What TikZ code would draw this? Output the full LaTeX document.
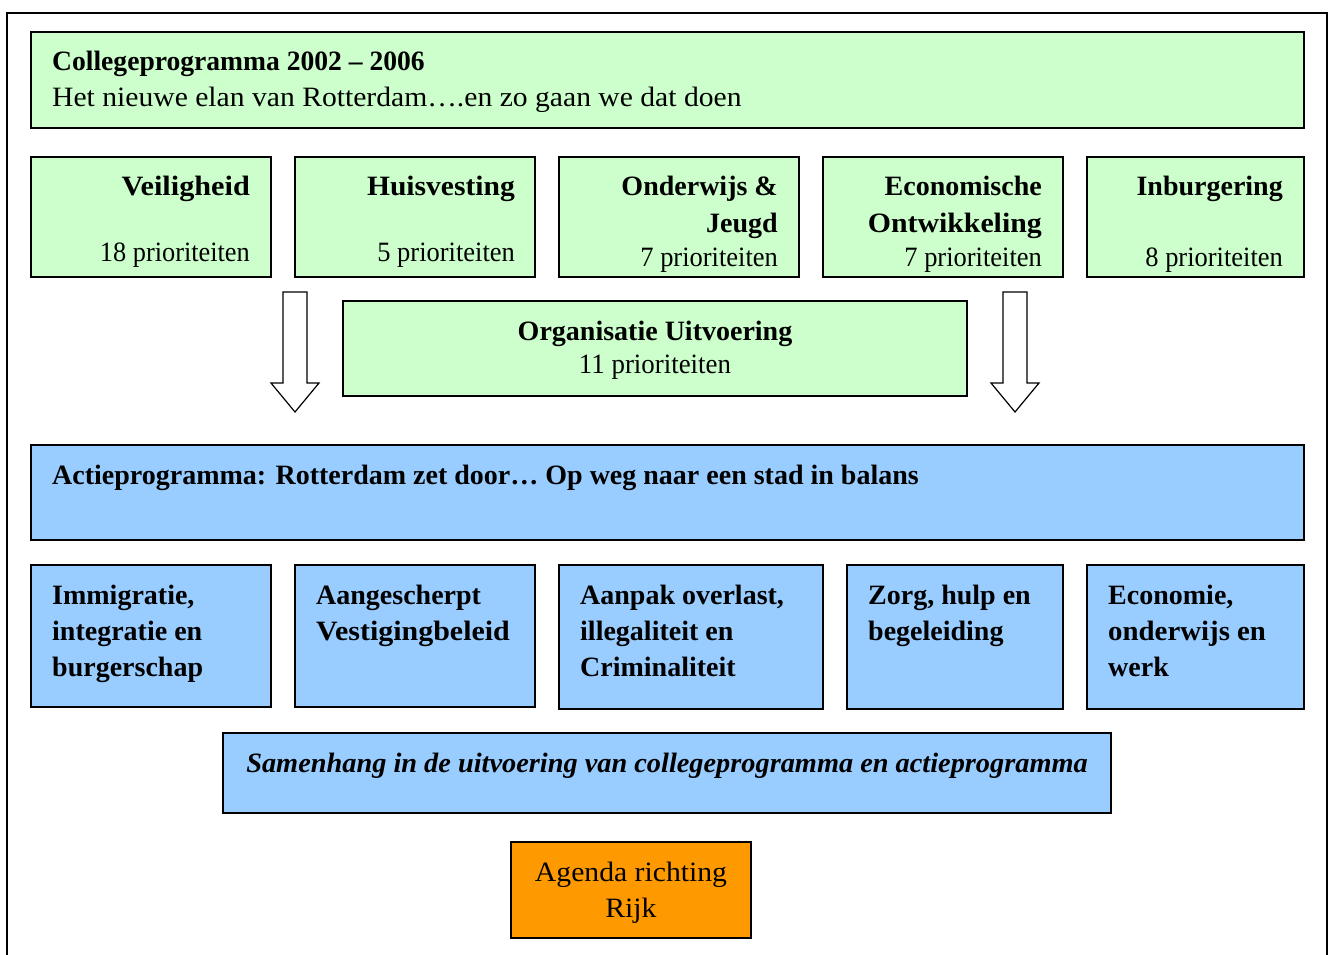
\documentclass[tikz,border=0pt]{standalone}
\usepackage{fontspec}
\setmainfont{Liberation Serif}
\definecolor{cgreen}{HTML}{CCFFCC}
\definecolor{cblue}{HTML}{99CCFF}
\definecolor{corange}{HTML}{FF9900}
\newcommand{\wx}[2]{\scalebox{#1}[1]{#2}}
\begin{document}
\begin{tikzpicture}[x=1pt,y=-1pt,
  box/.style={draw=black,line width=1.6pt,inner sep=0pt,outer sep=0pt,anchor=north west},
  greenbox/.style={box,fill=cgreen},
  bluebox/.style={box,fill=cblue},
  orangebox/.style={box,fill=corange},
  txt/.style={inner sep=0pt,font=\fontsize{28}{36}\selectfont},
  btxt/.style={txt,font=\fontsize{28}{36}\selectfont\bfseries},
  blockarrow/.style={draw=black,line width=1.2pt,fill=white,line join=miter}
]
\useasboundingbox (0,0) rectangle (1332,954);
% outer frame, open at the bottom
\draw[line width=2pt] (7,960) -- (7,13) -- (1327,13) -- (1327,960);

% Collegeprogramma
\node[greenbox,minimum width=1273pt,minimum height=96pt] (college) at (31,32) {};
\node[btxt,anchor=base west] (collegeT) at (52,70) {\wx{0.985}{Collegeprogramma 2002 – 2006}};
\node[txt,anchor=base west] (collegeS) at (52,106) {\wx{1.058}{Het nieuwe elan van Rotterdam….en zo gaan we dat doen}};

% five policy fields
\node[greenbox,minimum width=240pt,minimum height=120pt] (veil) at (31,157) {};
\node[greenbox,minimum width=240pt,minimum height=120pt] (huis) at (295,157) {};
\node[greenbox,minimum width=240pt,minimum height=120pt] (ond) at (559,157) {};
\node[greenbox,minimum width=240pt,minimum height=120pt] (eco) at (823,157) {};
\node[greenbox,minimum width=217pt,minimum height=120pt] (inb) at (1087,157) {};

% the field texts run into the bottom edge of their boxes
\begin{scope}
\clip (31,157) rectangle (1304,272.5);
\node[btxt,anchor=base east] (veilT) at (250,195) {\wx{1.08}{Veiligheid}};
\node[txt,anchor=base east] (veilP) at (250,261) {\wx{0.94}{18 prioriteiten}};
\node[btxt,anchor=base east] (huisT) at (515,195) {\wx{1.055}{Huisvesting}};
\node[txt,anchor=base east] (huisP) at (515,261) {\wx{0.945}{5 prioriteiten}};
\node[btxt,anchor=base east] (ondT) at (778,195) {Onderwijs \&};
\node[btxt,anchor=base east] (ondT2) at (778,232) {Jeugd};
\node[txt,anchor=base east] (ondP) at (778,266) {\wx{0.945}{7 prioriteiten}};
\node[btxt,anchor=base east] (ecoT) at (1042,195) {Economische};
\node[btxt,anchor=base east] (ecoT2) at (1042,232) {\wx{1.065}{Ontwikkeling}};
\node[txt,anchor=base east] (ecoP) at (1042,266) {\wx{0.945}{7 prioriteiten}};
\node[btxt,anchor=base east] (inbT) at (1283,195) {Inburgering};
\node[txt,anchor=base east] (inbP) at (1283,266) {\wx{0.945}{8 prioriteiten}};
\end{scope}

% Organisatie Uitvoering
\node[greenbox,minimum width=624pt,minimum height=95pt] (org) at (343,301) {};
\node[btxt,anchor=base] (orgT) at (655,340) {Organisatie Uitvoering};
\node[txt,anchor=base] (orgP) at (655,373) {\wx{0.96}{11 prioriteiten}};

% block arrows
\coordinate (la) at (295,292);
\coordinate (ra) at (1015,292);
\draw[blockarrow] (la) ++(-12,0) -- ++(24,0) -- ++(0,91) -- ++(12,0) -- ++(-24,29) -- ++(-24,-29) -- ++(12,0) -- cycle;
\draw[blockarrow] (ra) ++(-12,0) -- ++(24,0) -- ++(0,91) -- ++(12,0) -- ++(-24,29) -- ++(-24,-29) -- ++(12,0) -- cycle;

% Actieprogramma
\node[bluebox,minimum width=1273pt,minimum height=95pt] (actie) at (31,445) {};
\node[btxt,anchor=base west] (actieT) at (52,484) {Actieprogramma: Rotterdam zet door… Op weg naar een stad in balans};

% five themes
\node[bluebox,minimum width=240pt,minimum height=142pt] (imm) at (31,565) {};
\node[bluebox,minimum width=240pt,minimum height=142pt] (aan) at (295,565) {};
\node[bluebox,minimum width=264pt,minimum height=144pt] (ovl) at (559,565) {};
\node[bluebox,minimum width=216pt,minimum height=144pt] (zorg) at (847,565) {};
\node[bluebox,minimum width=217pt,minimum height=144pt] (econ) at (1087,565) {};

\node[btxt,anchor=base west] (imm1) at (52,604) {Immigratie,};
\node[btxt,anchor=base west] (imm2) at (52,640) {integratie en};
\node[btxt,anchor=base west] (imm3) at (52,676) {burgerschap};
\node[btxt,anchor=base west] (aan1) at (316,604) {Aangescherpt};
\node[btxt,anchor=base west] (aan2) at (316,640) {\wx{1.07}{Vestigingbeleid}};
\node[btxt,anchor=base west] (ovl1) at (580,604) {Aanpak overlast,};
\node[btxt,anchor=base west] (ovl2) at (580,640) {illegaliteit en};
\node[btxt,anchor=base west] (ovl3) at (580,676) {Criminaliteit};
\node[btxt,anchor=base west] (zorg1) at (868,604) {Zorg, hulp en};
\node[btxt,anchor=base west] (zorg2) at (868,640) {begeleiding};
\node[btxt,anchor=base west] (econ1) at (1108,604) {Economie,};
\node[btxt,anchor=base west] (econ2) at (1108,640) {\wx{1.03}{onderwijs en}};
\node[btxt,anchor=base west] (econ3) at (1108,676) {werk};

% Samenhang
\node[bluebox,minimum width=888pt,minimum height=80pt] (sam) at (223,733) {};
\node[btxt,anchor=base,font=\fontsize{28}{36}\selectfont\bfseries\itshape] (samT) at (667,772) {\wx{1.012}{Samenhang in de uitvoering van collegeprogramma en actieprogramma}};

% Agenda richting Rijk
\node[orangebox,minimum width=240pt,minimum height=96pt] (agenda) at (511,842) {};
\node[txt,anchor=base] (agenda1) at (631,881) {\wx{1.06}{Agenda richting}};
\node[txt,anchor=base] (agenda2) at (631,917) {\wx{1.06}{Rijk}};
\end{tikzpicture}
\end{document}
